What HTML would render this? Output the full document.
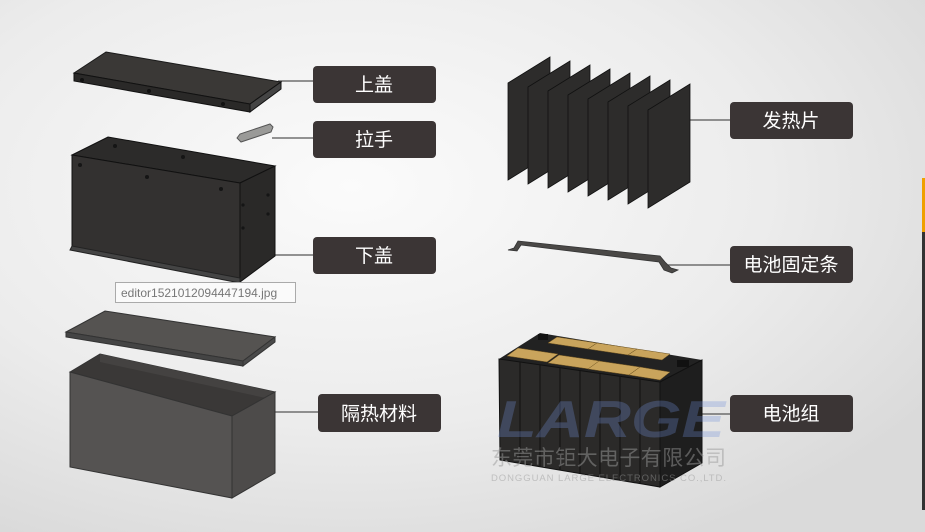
<!DOCTYPE html>
<html><head><meta charset="utf-8"><style>
html,body{margin:0;padding:0;}
body{width:925px;height:532px;overflow:hidden;font-family:"Liberation Sans","Noto Sans CJK SC",sans-serif;}
</style></head><body>
<svg width="925" height="532" viewBox="0 0 925 532" xmlns="http://www.w3.org/2000/svg" style="display:block">
<defs>
<radialGradient id="bg" cx="0.38" cy="0.35" r="0.75">
<stop offset="0" stop-color="#fbfbfb"/><stop offset="0.6" stop-color="#ececec"/><stop offset="1" stop-color="#dadada"/>
</radialGradient>
</defs>
<rect width="925" height="532" fill="url(#bg)"/>
<rect x="922" y="178" width="3" height="54" fill="#f0a000"/>
<rect x="922" y="232" width="3" height="278" fill="#333"/>

<g stroke="#555" stroke-width="1.2">
<line x1="278" y1="81" x2="313" y2="81"/>
<line x1="272" y1="138" x2="313" y2="138"/>
<line x1="268" y1="255" x2="313" y2="255"/>
<line x1="262" y1="412" x2="318" y2="412"/>
<line x1="682" y1="120" x2="730" y2="120"/>
<line x1="668" y1="265" x2="730" y2="265"/>
<line x1="700" y1="414" x2="730" y2="414"/>
</g>

<polygon points="74,73 106,52 281,82 250,104" fill="#3a3836" stroke="#1a1a1a" stroke-width="1"/>
<polygon points="74,73 250,104 250,112 74,81" fill="#2a2928" stroke="#111"/>
<polygon points="250,104 281,82 281,89 250,112" fill="#444" stroke="#111"/>
<g fill="#111"><circle cx="82" cy="80" r="2"/><circle cx="149" cy="91" r="2"/><circle cx="223" cy="104" r="2"/></g>

<path d="M237,138 L240,134 L270,124 L273,127 L271,132 L241,142 Z" fill="#9a9a98" stroke="#555"/>

<polygon points="72,155 108,137 275,166 240,183" fill="#2c2b2a" stroke="#111"/>
<polygon points="72,155 240,183 240,282 72,250" fill="#333130" stroke="#111"/>
<polygon points="240,183 275,166 275,256 240,282" fill="#2a2928" stroke="#111"/>
<polygon points="70,250 240,283 240,278 72,246" fill="#444" stroke="#222"/>
<g fill="#151515"><circle cx="80" cy="165" r="2"/><circle cx="147" cy="177" r="2"/><circle cx="221" cy="189" r="2"/><circle cx="183" cy="157" r="2"/><circle cx="115" cy="146" r="2"/><circle cx="243" cy="205" r="1.6"/><circle cx="268" cy="195" r="1.6"/><circle cx="243" cy="228" r="1.6"/><circle cx="268" cy="214" r="1.6"/></g>

<rect x="115.5" y="282.5" width="180" height="20" fill="#fafafa" stroke="#aaa"/>
<text x="121" y="297" font-size="12" fill="#777">editor1521012094447194.jpg</text>

<polygon points="66,332 105,311 275,337 243,361" fill="#555351" stroke="#333"/>
<polygon points="66,332 243,361 243,366 66,337" fill="#444" stroke="#333"/>
<polygon points="243,361 275,337 275,342 243,366" fill="#4a4a4a" stroke="#333"/>
<polygon points="70,372 100,354 275,392 232,416" fill="#3a3837" stroke="#333"/>
<polygon points="100,354 275,392 275,400 100,362" fill="#444241"/>
<polygon points="70,372 232,416 232,498 70,467" fill="#555352" stroke="#333"/>
<polygon points="232,416 275,392 275,473 232,498" fill="#4d4b4a" stroke="#333"/>

<g fill="#2d2c2b" stroke="#111" stroke-width="0.8">
<polygon points="508,83 550,57 550,154 508,180"/>
<polygon points="528,87 570,61 570,158 528,184"/>
<polygon points="548,91 590,65 590,162 548,188"/>
<polygon points="568,95 610,69 610,166 568,192"/>
<polygon points="588,99 630,73 630,170 588,196"/>
<polygon points="608,102 650,76 650,174 608,200"/>
<polygon points="628,106 670,80 670,178 628,204"/>
<polygon points="648,110 690,84 690,182 648,208"/>
</g>

<path d="M508,250 L514,248 L518,241 L660,256 L665,262 L671,268 L678,270 L672,273 L664,270 L659,262 L521,245 L517,251 Z" fill="#4a4846" stroke="#333" stroke-width="0.8"/>

<polygon points="499,359 540,333 702,360 660,382" fill="#222"/>
<polygon points="499,359 660,382 660,487 500,460" fill="#2b2a29" stroke="#111"/>
<polygon points="660,382 702,360 702,463 660,487" fill="#1e1e1e" stroke="#111"/>
<g stroke="#151515" stroke-width="1.2">
<line x1="520" y1="362" x2="520" y2="464"/><line x1="540" y1="365" x2="540" y2="467"/><line x1="560" y1="368" x2="560" y2="470"/><line x1="580" y1="371" x2="580" y2="474"/><line x1="600" y1="374" x2="600" y2="477"/><line x1="620" y1="376" x2="620" y2="480"/><line x1="640" y1="379" x2="640" y2="484"/>
</g>
<g fill="#c9a45c" stroke="#6a5020" stroke-width="0.5">
<polygon points="507,356 518,348 558,354 547,362"/>
<polygon points="548,363 559,355 600,361 589,369"/>
<polygon points="588,369 599,361 640,367 629,375"/>
<polygon points="629,375 640,367 670,372 660,380"/>
<polygon points="548,343 557,337 597,343 588,349"/>
<polygon points="588,349 597,343 637,349 628,355"/>
<polygon points="628,355 637,349 670,354 662,360"/>
</g>
<rect x="538" y="334" width="10" height="6" fill="#111"/>
<rect x="677" y="360" width="12" height="7" fill="#111"/>

<text x="497" y="437" font-size="52" font-weight="bold" font-style="italic" fill="#6f8fd8" fill-opacity="0.3" textLength="228" lengthAdjust="spacingAndGlyphs">LARGE</text>
<text x="491" y="465" font-size="21" fill="#999" fill-opacity="0.5" font-family="Noto Sans CJK SC,sans-serif" textLength="235">东莞市钜大电子有限公司</text>
<text x="491" y="481" font-size="9.5" fill="#999" fill-opacity="0.5" textLength="235">DONGGUAN LARGE ELECTRONICS CO.,LTD.</text>

<g fill="#3b3535">
<rect x="313" y="66" width="123" height="37" rx="4"/>
<rect x="313" y="121" width="123" height="37" rx="4"/>
<rect x="313" y="237" width="123" height="37" rx="4"/>
<rect x="318" y="394" width="123" height="38" rx="4"/>
<rect x="730" y="102" width="123" height="37" rx="4"/>
<rect x="730" y="246" width="123" height="37" rx="4"/>
<rect x="730" y="395" width="123" height="37" rx="4"/>
</g>
<g fill="#fff" font-size="19" text-anchor="middle" font-family="Noto Sans CJK SC,sans-serif">
<text x="374" y="91">上盖</text>
<text x="374" y="146">拉手</text>
<text x="374" y="262">下盖</text>
<text x="379" y="420">隔热材料</text>
<text x="791" y="127">发热片</text>
<text x="791" y="271">电池固定条</text>
<text x="791" y="420">电池组</text>
</g>
</svg>
</body></html>
